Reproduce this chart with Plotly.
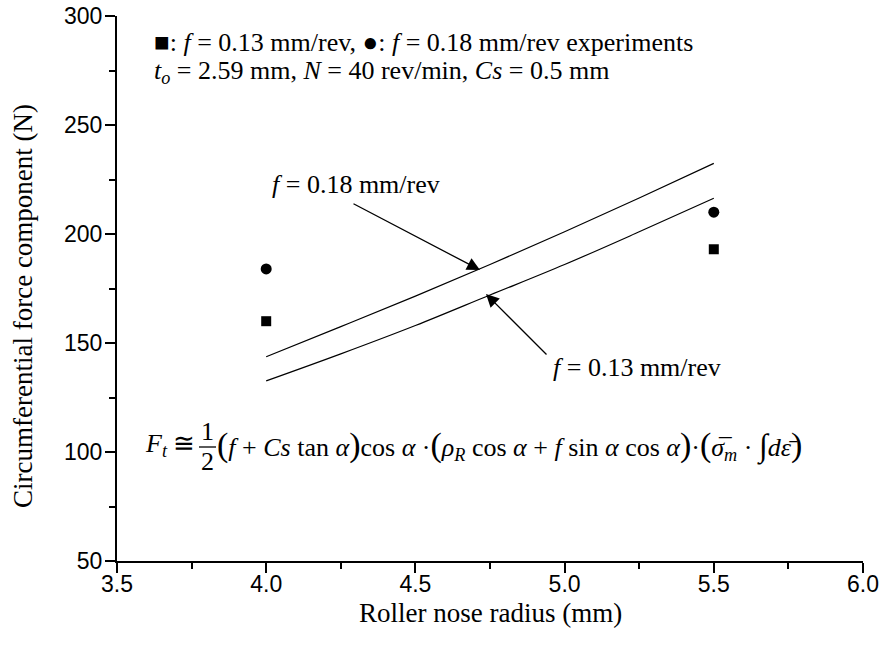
import plotly.graph_objects as go

# ---- data ----
x_exp = [4.0, 5.5]
f013_exp = [160, 193]
f018_exp = [184, 210]

x_model = [4.0, 4.25, 4.5, 4.75, 5.0, 5.25, 5.5]
f018_model = [143.7, 157.5, 171.5, 186.0, 201.0, 216.5, 232.4]
f013_model = [132.6, 145.0, 158.0, 172.0, 186.0, 201.0, 216.4]

x_ticks = [3.5, 4.0, 4.5, 5.0, 5.5, 6.0]
y_ticks = [50, 100, 150, 200, 250, 300]

SERIF = "Liberation Serif, Times New Roman, serif"
SANS = "Liberation Sans, Arial, sans-serif"

SW, SH = 879, 646
W, H = SW, SH
PL, PR, PT, PB = 117, 863, 16, 561   # plot area on screen
L, R, T, B = PL, SW - PR, PT, SH - PB
PW, PH = PR - PL, PB - PT


def px(xs):
    return (xs - PL) / PW


def py(ys):
    return (PB - ys) / PH


fig = go.Figure()
fig.add_trace(go.Scatter(x=x_model, y=f018_model, mode="lines", line=dict(color="black", width=1.2, shape="spline"),
                         showlegend=False, hoverinfo="skip"))
fig.add_trace(go.Scatter(x=x_model, y=f013_model, mode="lines", line=dict(color="black", width=1.2, shape="spline"),
                         showlegend=False, hoverinfo="skip"))
fig.add_trace(go.Scatter(x=x_exp, y=f013_exp, mode="markers", marker=dict(symbol="square", size=10, color="black"),
                         showlegend=False))
fig.add_trace(go.Scatter(x=x_exp, y=f018_exp, mode="markers", marker=dict(symbol="circle", size=11, color="black"),
                         showlegend=False))

ann = []
fs = 26
TF = dict(family=SERIF, size=fs, color="black")
# header texts
ann.append(dict(xref="paper", yref="paper", x=px(152), y=py(43), xanchor="left", yanchor="middle",
                text="■: <i>f</i> = 0.13 mm/rev, ●: <i>f</i> = 0.18 mm/rev experiments", showarrow=False, font=TF))
ann.append(dict(xref="paper", yref="paper", x=px(152), y=py(72), xanchor="left", yanchor="middle",
                text="<i>t<sub>o</sub></i> = 2.59 mm, <i>N</i> = 40 rev/min, <i>Cs</i> = 0.5 mm", showarrow=False,
                font=TF))
# curve labels
ann.append(dict(xref="paper", yref="paper", x=px(356), y=py(185), xanchor="center", yanchor="middle",
                text="<i>f</i> = 0.18 mm/rev", showarrow=False, font=TF))
ann.append(dict(xref="paper", yref="paper", x=px(637), y=py(367), xanchor="center", yanchor="middle",
                text="<i>f</i> = 0.13 mm/rev", showarrow=False, font=TF))
# arrows
ann.append(dict(xref="paper", yref="paper", x=px(480), y=py(270), ax=352 - 480, ay=203 - 270, text="",
                showarrow=True, arrowhead=2, arrowsize=2.0, arrowwidth=1.3, arrowcolor="black", standoff=0))
ann.append(dict(xref="paper", yref="paper", x=px(486), y=py(294), ax=548 - 486, ay=356 - 294, text="",
                showarrow=True, arrowhead=2, arrowsize=2.0, arrowwidth=1.3, arrowcolor="black", standoff=0))
# formula
ann.append(dict(xref="paper", yref="paper", x=px(143), y=py(445), xanchor="left", yanchor="middle",
                text="<i>F<sub>t</sub></i> ≅", showarrow=False, font=TF))
ann.append(dict(xref="paper", yref="paper", x=px(207), y=py(431), xanchor="center", yanchor="middle",
                text="1", showarrow=False, font=TF))
ann.append(dict(xref="paper", yref="paper", x=px(207), y=py(462), xanchor="center", yanchor="middle",
                text="2", showarrow=False, font=TF))
BP = '<span style="font-size:34px">{}</span>'
formula = (BP.format("(") + "<i>f</i> + <i>Cs</i> tan <i>α</i>" + BP.format(")") + "cos <i>α</i> ·"
           + BP.format("(") + "<i>ρ<sub>R</sub></i> cos <i>α</i> + <i>f</i> sin <i>α</i> cos <i>α</i>"
           + BP.format(")") + "·" + BP.format("(") + "<i>σ\u0305<sub>m</sub></i> · "
           + '<span style="font-size:32px">∫</span><i>dε\u0304</i>' + BP.format(")"))
ann.append(dict(xref="paper", yref="paper", x=px(215), y=py(445), xanchor="left", yanchor="middle",
                text=formula, showarrow=False, font=TF))
# axis titles
ann.append(dict(xref="paper", yref="paper", x=0.5, y=py(613), xanchor="center", yanchor="middle",
                text="Roller nose radius (mm)", showarrow=False, font=dict(family=SERIF, size=27, color="black")))
ann.append(dict(xref="paper", yref="paper", x=px(23), y=py(306), xanchor="center", yanchor="middle",
                text="Circumferential force component (N)", textangle=-90, showarrow=False,
                font=dict(family=SERIF, size=27, color="black")))

shapes = [dict(type="line", xref="paper", yref="paper", x0=px(199), x1=px(216), y0=py(447), y1=py(447),
               line=dict(color="black", width=1.3))]

axis_common = dict(showgrid=False, zeroline=False, showline=True, linecolor="black", linewidth=2,
                   ticks="outside", ticklen=10, tickwidth=2, tickcolor="black",
                   tickfont=dict(family=SANS, size=23, color="black"), mirror=False,
                   ticklabeloverflow="allow")

fig.update_layout(
    width=W, height=H, margin=dict(l=L, r=R, t=T, b=B, autoexpand=False),
    paper_bgcolor="white", plot_bgcolor="white",
    xaxis=dict(range=[3.5, 6.0], tickvals=x_ticks, ticktext=[f"{v:.1f}" for v in x_ticks],
               minor=dict(dtick=0.25, tick0=3.5, ticks="outside", ticklen=6, tickwidth=2, tickcolor="black"),
               ticklabelstandoff=-9, **axis_common),
    yaxis=dict(range=[50, 300], tickvals=y_ticks, ticktext=[str(v) for v in y_ticks],
               minor=dict(dtick=25, tick0=50, ticks="outside", ticklen=6, tickwidth=2, tickcolor="black"),
               ticklabelstandoff=-2, **axis_common),
    annotations=ann, shapes=shapes, showlegend=False,
)

fig.write_html("out.html", config={"displayModeBar": False},
               post_script="document.body.style.margin='0px';")
